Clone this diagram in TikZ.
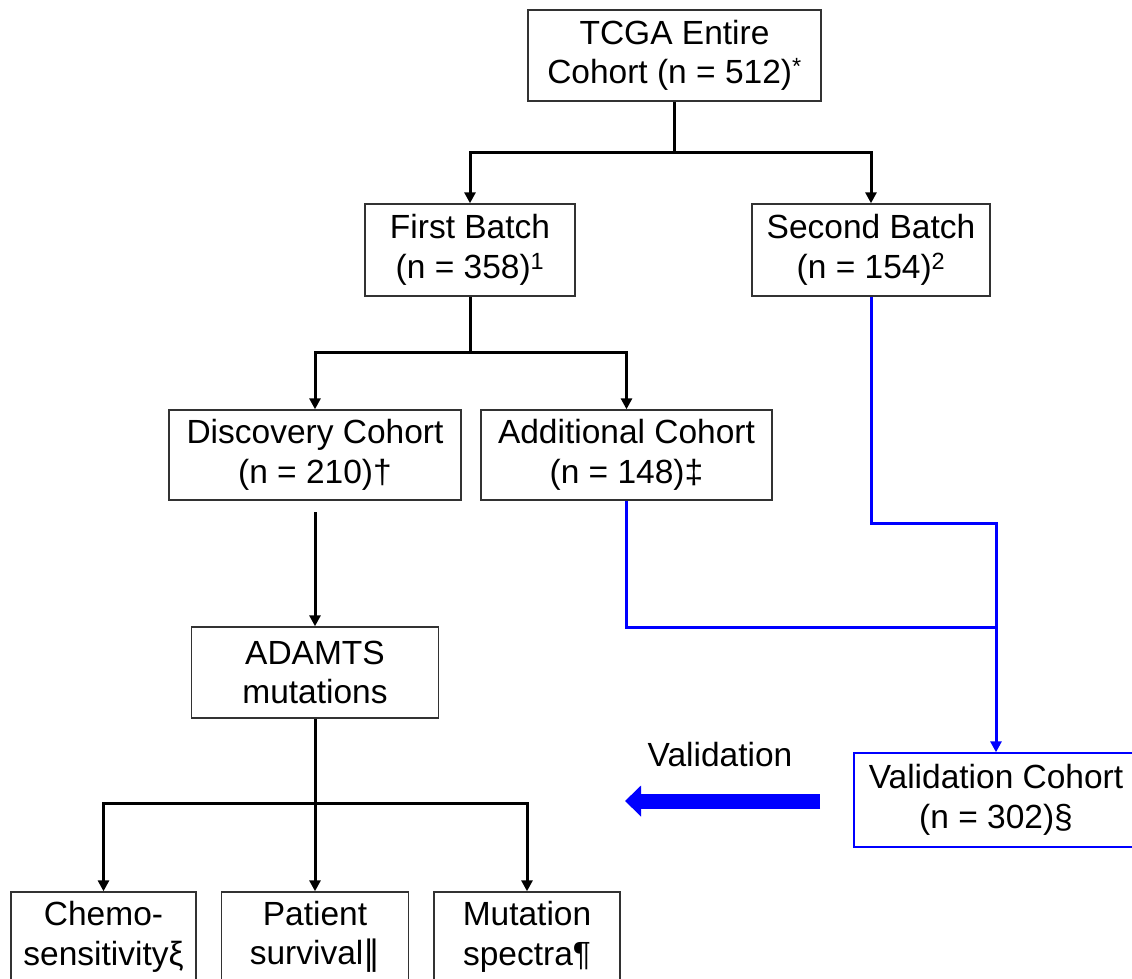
\documentclass[tikz,border=0pt]{standalone}
\usepackage{fontspec}
\setmainfont{Liberation Sans}
\newfontfamily\dejavu{DejaVu Sans}
\usetikzlibrary{arrows.meta}
\definecolor{pblue}{RGB}{0,0,255}
\definecolor{boxgray}{RGB}{50,50,50}
\begin{document}
\begin{tikzpicture}[x=1pt,y=-1pt,
  box/.style={draw=boxgray, line width=1.4pt, align=center, inner sep=0pt,
    font=\fontsize{33.5}{39.5}\selectfont, text=black,
    execute at begin node={\rule{0pt}{35pt}}},
  conn/.style={line width=3pt, draw=black},
  tipd/.style={-{Triangle[length=11pt,width=11pt]}},
  blueconn/.style={line width=3pt, draw=pblue},
  lbl/.style={font=\fontsize{33.5}{39.5}\selectfont, text=black, inner sep=0pt}]
\useasboundingbox (0,0) rectangle (1132,978);
\clip (0,0) rectangle (1132,978);

% boxes
\node[box, minimum width=293pt, minimum height=91pt] (tcga) at (674.5,55.5)
  {TCGA Entire\\Cohort (n = 512)\textsuperscript{*}};
\node[box, minimum width=210pt, minimum height=92pt] (first) at (470,250)
  {First Batch\\(n = 358)\textsuperscript{1}};
\node[box, minimum width=238pt, minimum height=92pt] (second) at (871,250)
  {Second Batch\\(n = 154)\textsuperscript{2}};
\node[box, minimum width=292pt, minimum height=90pt] (disc) at (315,455)
  {Discovery Cohort\\(n = 210)†};
\node[box, minimum width=291pt, minimum height=90pt] (addl) at (626.5,455)
  {Additional Cohort\\(n = 148)‡};
\node[box, minimum width=247pt, minimum height=91pt] (adamts) at (315,672.5)
  {ADAMTS\\mutations};
\node[box, minimum width=185pt, minimum height=90pt] (chemo) at (103.5,937)
  {Chemo-\\sensitivityξ};
\node[box, minimum width=187pt, minimum height=90pt] (patient) at (315,937)
  {Patient\\survival{\dejavu ‖}};
\node[box, minimum width=186pt, minimum height=90pt] (mutation) at (527,937)
  {Mutation\\spectra¶};
\node[box, draw=pblue, minimum width=284pt, minimum height=94pt] (valid) at (996,800)
  {Validation Cohort\\(n = 302)§};
\node[lbl] (vlabel) at (720,755) {Validation};

% junction coordinates
\coordinate (j1) at (674.5,152);
\coordinate (j2) at (470,352);
\coordinate (d1) at (315,512);
\coordinate (j3) at (315,803);
\coordinate (j4) at (996,523);
\coordinate (j5) at (996,627);
\coordinate (a1) at (820,801);
\coordinate (a2) at (625,801);

% black connectors
\draw[conn] (tcga.south) -- (j1);
\draw[conn, tipd] (j1) -| (first.north);
\draw[conn, tipd] (j1) -| (second.north);
\draw[conn] (first.south) -- (j2);
\draw[conn, tipd] (j2) -| (disc.north);
\draw[conn, tipd] (j2) -| (addl.north);
\draw[conn, tipd] (d1) -- (adamts.north);
\draw[conn] (adamts.south) -- (j3);
\draw[conn, tipd] (j3) -| (chemo.north);
\draw[conn, tipd] (j3) -- (patient.north);
\draw[conn, tipd] (j3) -| (mutation.north);

% blue connectors
\draw[blueconn, -{Triangle[length=11pt,width=11pt]}] (second.south) |- (j4) -- (valid.north);
\draw[blueconn] (addl.south) |- (j5);

% big validation arrow
\draw[pblue, line width=15pt, -{Triangle[length=16pt,width=30pt]}] (a1) -- (a2);
\end{tikzpicture}
\end{document}
